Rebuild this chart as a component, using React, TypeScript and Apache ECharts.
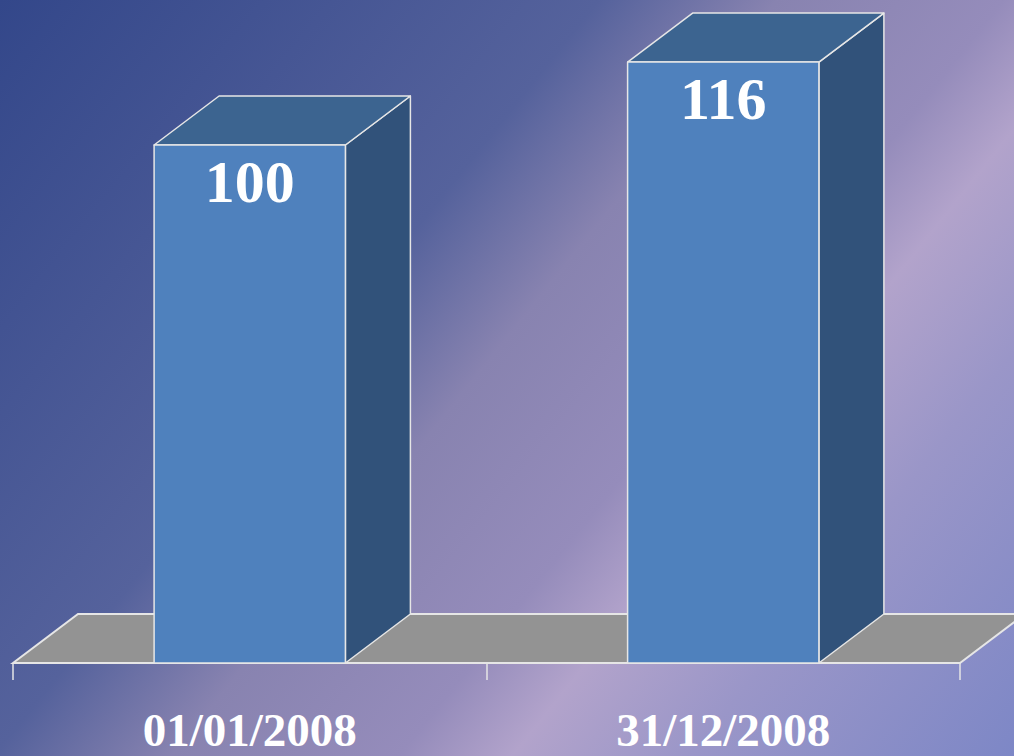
import React, { useEffect, useRef } from "react";
import * as echarts from "echarts";

const categories = ["01/01/2008", "31/12/2008"];
const values = [100, 116];
const yMax = 120;

const DX = 65;
const DY = -49;
const EDGE = "#e6e6e6";

export default function App() {
  const ref = useRef<HTMLDivElement>(null);
  useEffect(() => {
    if (!ref.current) return;
    const chart = echarts.init(ref.current, undefined, { renderer: "svg" });
    const option: any = {
      animation: false,
      backgroundColor: {
        type: "linear",
        global: true,
        x: 0,
        y: 0,
        x2: 987,
        y2: 790,
        colorStops: [
          { offset: 0, color: "#33478a" },
          { offset: 0.37, color: "#55629c" },
          { offset: 0.48, color: "#8883b0" },
          { offset: 0.62, color: "#958cbb" },
          { offset: 0.69, color: "#b2a3cb" },
          { offset: 0.8, color: "#9a96c8" },
          { offset: 1, color: "#7d87c6" },
        ],
      },
      grid: {
        left: 13,
        right: 54,
        top: 41.4,
        bottom: 93,
        outerBoundsMode: "none",
      },
      xAxis: {
        type: "category",
        data: categories,
        axisLine: { show: false },
        axisTick: { show: true, length: 17, lineStyle: { color: EDGE, width: 1.5 } },
        axisLabel: {
          color: "#ffffff",
          fontSize: 47,
          lineHeight: 36,
          fontWeight: "bold",
          fontFamily: "Liberation Serif",
          margin: 67,
          verticalAlign: "middle",
        },
      },
      yAxis: { type: "value", min: 0, max: yMax, show: false },
      series: [
        {
          type: "custom",
          z: 1,
          data: [[0, 0]],
          renderItem: (params: any, api: any) => {
            const cs = params.coordSys;
            const y0 = api.coord([0, 0])[1];
            const xl = cs.x;
            const xr = cs.x + cs.width;
            return {
              type: "polygon",
              shape: {
                points: [
                  [xl, y0],
                  [xl + DX, y0 + DY],
                  [xr + DX, y0 + DY],
                  [xr, y0],
                ],
              },
              style: { fill: "#939393", stroke: EDGE, lineWidth: 2 },
            };
          },
        },
        {
          type: "custom",
          z: 2,
          data: values.map((v, i) => [i, v]),
          renderItem: (params: any, api: any) => {
            const idx = api.value(0);
            const val = api.value(1);
            const [cx, yT] = api.coord([idx, val]);
            const yB = api.coord([idx, 0])[1];
            const w = api.size([1, 0])[0] * 0.404;
            const x0 = cx - w / 2;
            const x1 = cx + w / 2;
            const st = { stroke: EDGE, lineWidth: 1.5, lineJoin: "round" };
            return {
              type: "group",
              children: [
                {
                  type: "polygon",
                  shape: {
                    points: [
                      [x1, yT],
                      [x1 + DX, yT + DY],
                      [x1 + DX, yB + DY],
                      [x1, yB],
                    ],
                  },
                  style: { fill: "#31527a", ...st },
                },
                {
                  type: "polygon",
                  shape: {
                    points: [
                      [x0, yT],
                      [x0 + DX, yT + DY],
                      [x1 + DX, yT + DY],
                      [x1, yT],
                    ],
                  },
                  style: { fill: "#3c6490", ...st },
                },
                {
                  type: "rect",
                  shape: { x: x0, y: yT, width: w, height: yB - yT },
                  style: { fill: "#4f81bd", ...st },
                },
                {
                  type: "text",
                  style: {
                    text: String(val),
                    x: cx,
                    y: yT + 37,
                    fill: "#ffffff",
                    fontSize: 60,
                    fontWeight: "bold",
                    fontFamily: "Liberation Serif",
                    align: "center",
                    verticalAlign: "middle",
                  },
                },
              ],
            };
          },
        },
      ],
    };
    chart.setOption(option);
    return () => chart.dispose();
  }, []);
  return (
    <div
      ref={ref}
      style={{ position: "fixed", left: 0, top: 0, width: 1014, height: 756 }}
    />
  );
}
